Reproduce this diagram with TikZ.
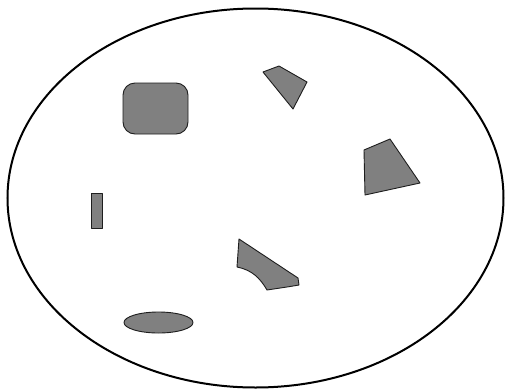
\documentclass[tikz,border=0pt]{standalone}
\begin{document}
\begin{tikzpicture}[x=1pt,y=-1pt,
  blob/.style={fill={rgb,255:red,128;green,128;blue,128},draw={rgb,255:red,30;green,30;blue,30},line width=0.9pt,line join=round}]
\useasboundingbox (0,0) rectangle (507,389);
\fill[white] (0,0) rectangle (507,389);
\draw[line width=2pt] (255.5,198) ellipse [x radius=248, y radius=189.5];
% rounded rectangle
\draw[blob,rounded corners=12pt] (123,83) rectangle (188,134);
% top quadrilateral
\draw[blob] (263,72) -- (279,66) -- (307,82) -- (293,109) -- cycle;
% right quadrilateral
\draw[blob] (364,150) -- (390,139) -- (420,183) -- (365,195) -- cycle;
% small rectangle
\draw[blob] (91,193) rectangle (102,228);
% curved shape
\draw[blob] (239,239) -- (298,278) -- (299,285) -- (287,287) -- (267,290)
  .. controls (260,278) and (252,270) .. (237,267) -- (239,239) -- cycle;
% small ellipse
\draw[blob] (158.5,322.5) ellipse [x radius=34.5, y radius=10.5];
\end{tikzpicture}
\end{document}
